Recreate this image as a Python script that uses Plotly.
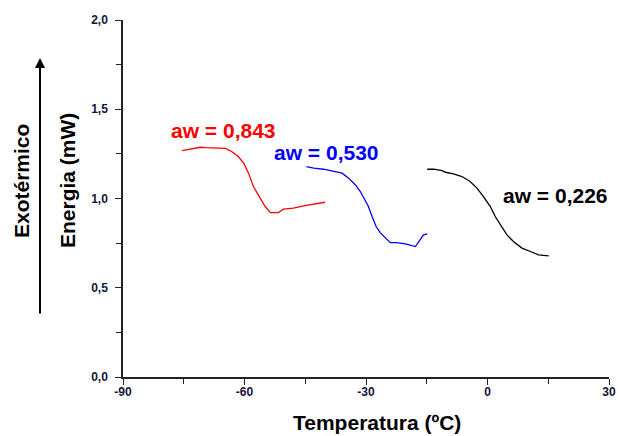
import plotly.graph_objects as go

# Data
red_x = [-75.4, -73.0, -70.9, -69.7, -64.7, -63.1, -61.5, -60.2, -59.0, -57.8, -56.1, -54.9, -53.6, -51.6, -50.4, -47.9, -45.4, -42.9, -40.1]
red_y = [1.268, 1.276, 1.287, 1.285, 1.281, 1.262, 1.234, 1.198, 1.142, 1.067, 1.002, 0.955, 0.921, 0.921, 0.940, 0.946, 0.959, 0.970, 0.979]

blue_x = [-44.7, -42.9, -40.5, -38.0, -35.9, -34.3, -32.6, -31.4, -30.6, -29.4, -28.5, -27.5, -26.5, -25.2, -24.0, -22.4, -20.3, -17.8, -17.0, -15.8, -14.9]
blue_y = [1.179, 1.170, 1.164, 1.151, 1.142, 1.114, 1.076, 1.039, 1.002, 0.955, 0.899, 0.843, 0.809, 0.778, 0.753, 0.753, 0.746, 0.731, 0.759, 0.796, 0.802]

black_x = [-14.9, -13.3, -11.2, -10.4, -8.4, -6.3, -4.3, -2.6, -1.0, 0.7, 1.9, 3.2, 4.8, 6.4, 8.5, 10.6, 12.6, 15.1]
black_y = [1.164, 1.164, 1.156, 1.147, 1.138, 1.123, 1.095, 1.058, 1.011, 0.955, 0.899, 0.852, 0.796, 0.759, 0.722, 0.703, 0.684, 0.679]

labels = ["aw = 0,843", "aw = 0,530", "aw = 0,226"]
label_x = [-65.2, -39.8, 16.9]
label_y = [1.381, 1.255, 1.017]
colors = ["#ff0000", "#0000ff", "#000000"]

x_ticks = [-90, -60, -30, 0, 30]
y_ticks = [0.0, 0.5, 1.0, 1.5, 2.0]
y_ticklabels = ["0,0", "0,5", "1,0", "1,5", "2,0"]

FONT = "Liberation Sans, Arial, sans-serif"
BIG = 21

fig = go.Figure()
for xs, ys, c in zip([red_x, blue_x, black_x], [red_y, blue_y, black_y], colors):
    fig.add_trace(go.Scatter(x=xs, y=ys, mode="lines", line=dict(color=c, width=1.3, shape="linear"),
                             showlegend=False, hoverinfo="skip"))

for t, lx, ly, c in zip(labels, label_x, label_y, colors):
    fig.add_annotation(x=lx, y=ly, text=f"<b>{t}</b>", showarrow=False,
                       font=dict(family=FONT, size=BIG, color=c), xanchor="center", yanchor="middle")

# Plot area in pixels: x 123..609, y 20..377 (height 357, width 486)
fig.add_annotation(xref="paper", yref="paper", x=(68 - 123) / 486, y=(377 - 181) / 357,
                   text="<b>Energia (mW)</b>",
                   textangle=-90, showarrow=False, font=dict(family=FONT, size=BIG, color="black"),
                   xanchor="center", yanchor="middle")
fig.add_annotation(xref="paper", yref="paper", x=(22 - 123) / 486, y=(377 - 181) / 357,
                   text="<b>Exotérmico</b>",
                   textangle=-90, showarrow=False, font=dict(family=FONT, size=BIG, color="black"),
                   xanchor="center", yanchor="middle")
fig.add_annotation(xref="paper", yref="paper", x=(40 - 123) / 486, y=(377 - 58) / 357,
                   axref="pixel", ayref="pixel",
                   ax=0, ay=257, text="", showarrow=True,
                   arrowhead=2, arrowsize=1, arrowwidth=2, arrowcolor="black")
fig.add_annotation(xref="paper", yref="paper", x=(377 - 123) / 486, y=(377 - 422) / 357,
                   text="<b>Temperatura (ºC)</b>",
                   showarrow=False, font=dict(family=FONT, size=BIG, color="black"),
                   xanchor="center", yanchor="middle")

fig.update_layout(
    width=618, height=436, autosize=False,
    margin=dict(l=123, r=9, t=20, b=59, autoexpand=False),
    paper_bgcolor="white", plot_bgcolor="white",
    font=dict(family=FONT),
)
fig.update_xaxes(range=[-90, 30], tickvals=x_ticks, ticktext=[f"<b>{v}</b>" for v in x_ticks],
                 automargin=False, ticklabelstandoff=-3,
                 ticks="outside", ticklen=6, tickwidth=1.2,
                 tickcolor="#222", showline=True, linecolor="#222", linewidth=1.5, showgrid=False,
                 zeroline=False, tickfont=dict(family=FONT, size=12, color="#141438"),
                 minor=dict(tickvals=[-75, -45, -15, 15], ticks="outside", ticklen=5, tickcolor="#222", showgrid=False))
fig.update_yaxes(range=[0, 2.0], tickvals=y_ticks, ticktext=[f"<b>{t}</b>" for t in y_ticklabels],
                 automargin=False, ticklabelstandoff=5,
                 ticks="outside", ticklen=6, tickwidth=1.2,
                 tickcolor="#222", showline=True, linecolor="#222", linewidth=1.5, showgrid=False,
                 zeroline=False, tickfont=dict(family=FONT, size=12, color="#141438"),
                 minor=dict(tickvals=[0.25, 0.75, 1.25, 1.75], ticks="outside", ticklen=5, tickcolor="#222", showgrid=False))

fig.write_html("out.html", config={"displayModeBar": False},
               post_script="document.body.style.margin='0';document.body.style.overflow='hidden';")
